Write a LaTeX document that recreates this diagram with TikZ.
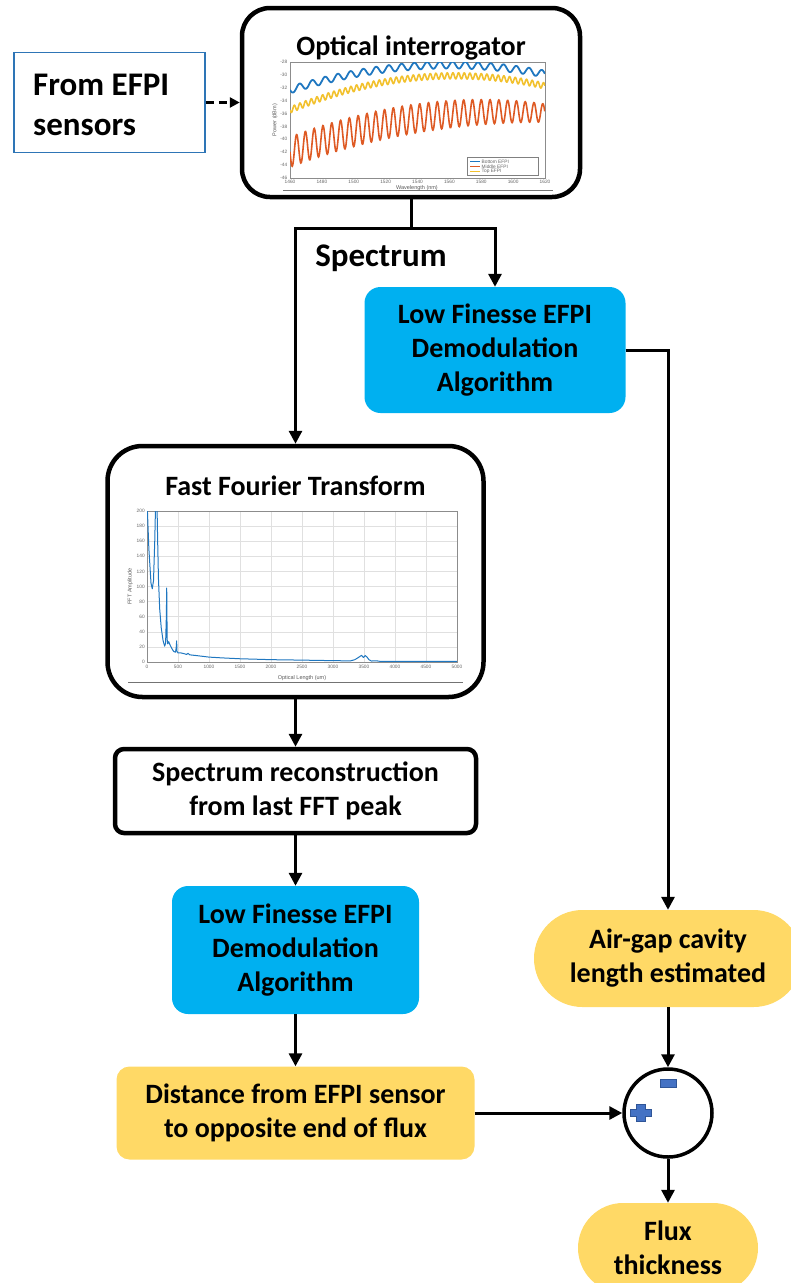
\documentclass[tikz,border=0pt]{standalone}
\usepackage{fontspec}
\setmainfont{Carlito}
\newfontfamily\plotfont{Liberation Sans}
\usetikzlibrary{arrows.meta,shapes.misc}

\definecolor{cyanbox}{HTML}{00B0F0}
\definecolor{goldbox}{HTML}{FFD966}
\definecolor{srcblue}{HTML}{2E75B6}
\definecolor{mblue}{HTML}{1F77C0}
\definecolor{morange}{HTML}{DE5A24}
\definecolor{myellow}{HTML}{F2C12E}
\definecolor{signblue}{HTML}{4472C4}
\definecolor{signedge}{HTML}{2F5597}

\tikzset{
  lbl/.style={font=\fontsize{28}{34}\selectfont\bfseries, align=center,
              execute at begin node={\rule{0pt}{25pt}}},
  biglbl/.style={font=\fontsize{33}{40}\selectfont\bfseries},
  heavybox/.style={draw, line width=4.5pt, inner sep=0pt},
  cyanstep/.style={lbl, fill=cyanbox, rounded corners=16pt, inner sep=0pt},
  goldstep/.style={lbl, fill=goldbox, rounded corners=13pt, inner sep=0pt},
  goldpill/.style={lbl, fill=goldbox, rounded rectangle, inner sep=0pt},
  flow/.style={line width=3pt, -{Triangle[length=13pt,width=13pt]}},
  tick/.style={font=\plotfont\fontsize{4.8}{5}\selectfont, text=black!60, inner sep=0.5pt},
  axlabel/.style={font=\plotfont\fontsize{5.5}{6}\selectfont, text=black!65, inner sep=0pt},
}

\begin{document}
\begin{tikzpicture}[x=1pt, y=-1pt]
\useasboundingbox (0,0) rectangle (791,1283);

% ---------- source and interrogator ----------
\node[draw=srcblue, line width=1.5pt, minimum width=191pt, minimum height=100pt] (src) at (109.5,102.5) {};
\node[biglbl, align=left, anchor=west, inner sep=0pt] (srctext) at (33,104.5) {From EFPI\\sensors};

\node[heavybox, rounded corners=28pt, minimum width=338pt, minimum height=189pt] (oi) at (411,102.5) {};
\node[lbl] (oititle) at (411,45) {Optical interrogator};

% spectrum plot inside the interrogator
\draw[black!45, line width=0.6pt] (290,62) rectangle (545,178);
\foreach \i [evaluate=\i as \v using int(-28-2*\i)] in {0,...,9}
  \node[tick, anchor=east] at (288,{62+\i*12.89}) {\v};
\foreach \i [evaluate=\i as \v using int(1460+20*\i)] in {0,...,8}
  \node[tick, anchor=north] at ({290+\i*31.875},179.5) {\v};
\node[axlabel, rotate=90] (ylab1) at (275,120) {Power (dBm)};
\node[axlabel] (xlab1) at (417,188) {Wavelength (nm)};
\begin{scope}
  \clip (290,62) rectangle (545,178);
  \draw[mblue, line width=1.8pt] plot[domain=0:1, samples=500, variable=\t]
    ({290+255*\t}, {90-80*\t+64*\t*\t + 3.5*sin(125.66*\t r)});
  \draw[myellow, line width=1.6pt] plot[domain=0:1, samples=800, variable=\t]
    ({290+255*\t}, {110-105.7*\t+81.7*\t*\t + 3*sin(282.74*\t r)});
  \draw[morange, line width=1.6pt] plot[domain=0:1, samples=700, variable=\t]
    ({290+255*\t}, {152-95.7*\t+56.7*\t*\t + (15-6*\t*\t*\t)*sin(182.2*\t r)});
\end{scope}
% legend
\draw[black!50, fill=white, line width=0.5pt] (467,157) rectangle (538,175);
\draw[mblue, line width=1.2pt] (470,161.5) -- (480,161.5);
\draw[morange, line width=1.2pt] (470,166.5) -- (480,166.5);
\draw[myellow, line width=1.2pt] (470,171.5) -- (480,171.5);
\node[tick, anchor=west] (leg1) at (481,161.5) {Bottom EFPI};
\node[tick, anchor=west] (leg2) at (481,166.5) {Middle EFPI};
\node[tick, anchor=west] (leg3) at (481,171.5) {Top EFPI};
\draw[black!55, line width=0.8pt] (283,190.5) -- (553,190.5);

% ---------- right branch ----------
\node[cyanstep, minimum width=261pt, minimum height=126pt] (lf1) at (495,350)
  {Low Finesse EFPI\\Demodulation\\Algorithm};
\node[font=\fontsize{33}{38}\selectfont\bfseries] (spec) at (381,258) {Spectrum};

% ---------- FFT block ----------
\node[heavybox, rounded corners=35pt, minimum width=376pt, minimum height=251pt] (fft) at (295.5,571.5) {};
\node[lbl] (ffttitle) at (295.5,483) {Fast Fourier Transform};
\begin{scope}[shift={(147,662)}, x=0.062pt, y=0.755pt]
  \draw[black!12, line width=0.5pt] (0,0) grid[xstep=500, ystep=20] (5000,200);
  \draw[black!45, line width=0.6pt] (0,0) rectangle (5000,200);
  \foreach \v in {0,20,...,200}
    \node[tick, anchor=east] at (-25,\v) {\v};
  \foreach \v in {0,500,...,5000}
    \node[tick, anchor=north] at (\v,-3) {\v};
  \node[axlabel, rotate=90] (ylab2) at (-270,100) {FFT Amplitude};
  \node[axlabel] (xlab2) at (2500,-21) {Optical Length (um)};
  \clip (0,0) rectangle (5000,200);
  \draw[mblue, line width=1pt, line join=round] plot coordinates {
    (0,215) (30,150) (65,104) (85,97) (105,108) (125,160) (140,215)
    (160,215) (172,160) (185,110) (205,70) (230,45) (260,28) (285,21)
    (300,25) (312,60) (318,98) (325,30) (335,24) (350,27) (375,22)
    (400,18) (430,14) (460,13) (472,20) (478,28) (484,14) (500,12)
    (550,12) (600,11) (640,10) (660,11.5) (690,9.5) (800,8.5)
    (1000,6.5) (1200,5.5) (1500,4.3) (1800,3.6) (2000,3.1) (2500,2.5)
    (3000,1.8) (3280,1.5) (3350,3) (3410,6) (3460,8.8) (3490,6)
    (3520,8.5) (3550,6.5) (3580,3) (3620,1.3) (3700,1.6) (3750,1)
    (4000,1) (4500,0.9) (5000,0.9)};
\end{scope}
\draw[black!55, line width=0.8pt] (128,682) -- (463,682);

% ---------- left chain ----------
\node[heavybox, rounded corners=9pt, minimum width=361pt, minimum height=84pt, lbl] (rec) at (295.5,791)
  {Spectrum reconstruction\\from last FFT peak};
\node[cyanstep, minimum width=247pt, minimum height=128pt] (lf2) at (295.5,950)
  {Low Finesse EFPI\\Demodulation\\Algorithm};
\node[goldstep, minimum width=358pt, minimum height=93pt] (dist) at (295.5,1113)
  {Distance from EFPI sensor\\to opposite end of flux};

% ---------- right column ----------
\node[goldpill, minimum width=268pt, minimum height=97pt] (air) at (668,958.5)
  {Air-gap cavity\\length estimated};
\node[draw, circle, line width=3.5pt, minimum size=88pt, inner sep=0pt] (sum) at (668,1113) {};
\node[goldpill, minimum width=180pt, minimum height=90pt] (flux) at (668,1248)
  {Flux\\thickness};

% signs of the summing junction
\begin{scope}[shift={(sum.center)}]
  \draw[fill=signblue, draw=signedge, line width=0.8pt] (-8,-34) rectangle (8,-26);
  \draw[fill=signblue, draw=signedge, line width=0.8pt]
    (-37.5,-3.5) -- (-31.5,-3.5) -- (-31.5,-8.5) -- (-22.5,-8.5) -- (-22.5,-3.5)
    -- (-16.5,-3.5) -- (-16.5,3.5) -- (-22.5,3.5) -- (-22.5,8.5) -- (-31.5,8.5)
    -- (-31.5,3.5) -- (-37.5,3.5) -- cycle;
\end{scope}

% ---------- connectors ----------
\draw[line width=3pt, dash pattern=on 8pt off 5pt, -{Triangle[length=10pt,width=10pt]}] (src.east) -- (oi.west);
\coordinate (split) at (411,228);
\draw[line width=3pt] (oi.south) -- (split);
\draw[flow] (split) -| (fft.north);
\draw[flow] (split) -| (lf1.north);
\draw[flow] (lf1.east) -| (air.north);
\draw[flow] (fft.south) -- (rec.north);
\draw[flow] (rec.south) -- (lf2.north);
\draw[flow] (lf2.south) -- (dist.north);
\draw[flow] (dist.east) -- (sum.west);
\draw[flow] (air.south) -- (sum.north);
\draw[flow] (sum.south) -- (flux.north);
\end{tikzpicture}
\end{document}
